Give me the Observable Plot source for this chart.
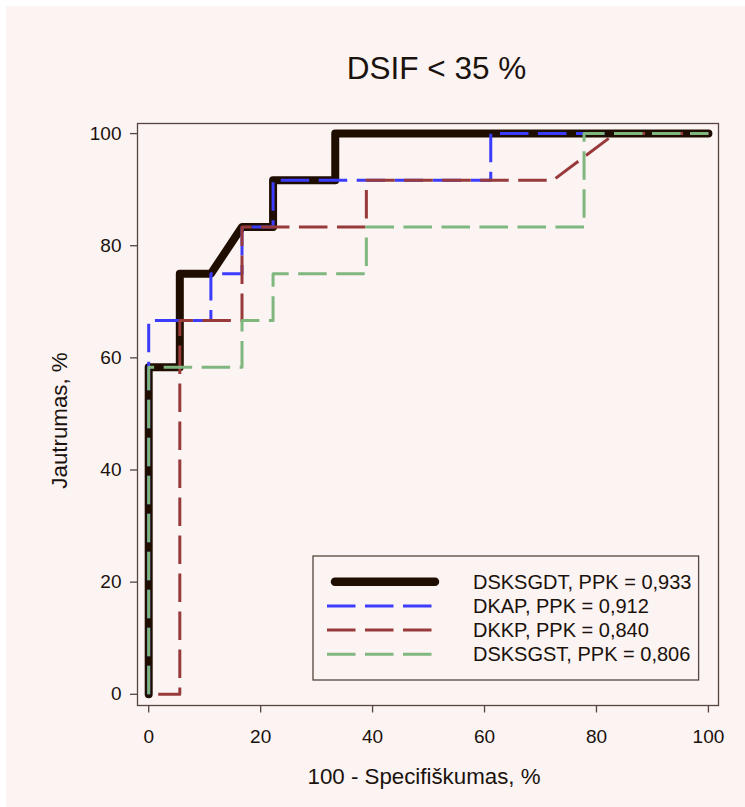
<!DOCTYPE html>
<html>
<head>
<meta charset="utf-8">
<script src="https://cdn.jsdelivr.net/npm/d3@7"></script>
<script src="https://cdn.jsdelivr.net/npm/@observablehq/plot@0.6"></script>
<style>
  html, body { margin: 0; padding: 0; background: #ffffff; }
  #wrap { position: absolute; left: 6px; top: 6px; width: 739px; height: 801px; background: #fcf3f3;
          font-family: "Liberation Sans", Arial, Helvetica, sans-serif; color: #1a120c; overflow: hidden; }
  #title { position: absolute; left: 430.5px; top: 46.5px; transform: translateX(-50%);
           font-size: 31.5px; line-height: 31.5px; white-space: nowrap; }
  #chart { position: absolute; left: 0; top: 100px; }
  #legend { position: absolute; left: 306.7px; top: 550px; }
</style>
</head>
<body>
<div id="wrap">
  <div id="title">DSIF &lt; 35 %</div>
  <div id="chart"></div>
  <div id="legend"></div>
</div>
<script>
// ---- data ----
const seriesNames = ["DSKSGDT", "DKAP", "DKKP", "DSKSGST"];
const ppkValues = [0.933, 0.912, 0.840, 0.806];

const dsksgdtX = [0, 0, 5.56, 5.56, 11.11, 16.67, 22.22, 22.22, 33.33, 33.33, 100];
const dsksgdtY = [0, 58.33, 58.33, 75, 75, 83.33, 83.33, 91.67, 91.67, 100, 100];

const dkapX = [0, 0, 11.11, 11.11, 16.67, 16.67, 22.22, 22.22, 61.11, 61.11, 100];
const dkapY = [0, 66.67, 66.67, 75, 75, 83.33, 83.33, 91.67, 91.67, 100, 100];

const dkkpX = [0, 5.56, 5.56, 16.67, 16.67, 38.89, 38.89, 72.22, 83.33, 100];
const dkkpY = [0, 0, 66.67, 66.67, 83.33, 83.33, 91.67, 91.67, 100, 100];

const dsksgstX = [0, 0, 16.67, 16.67, 22.22, 22.22, 38.89, 38.89, 77.78, 77.78, 100];
const dsksgstY = [0, 58.33, 58.33, 66.67, 66.67, 75, 75, 83.33, 83.33, 100, 100];

const xTicks = [0, 20, 40, 60, 80, 100];
const yTicks = [0, 20, 40, 60, 80, 100];
const xLabel = "100 - Specifiškumas, %";
const yLabel = "Jautrumas, %";

// ---- styles ----
const colors = ["#1f0e00", "#3c3cff", "#983a3a", "#7fb77f"];
const widths = [8, 3, 3, 3];
const dashes = [null, "28.5 9.5", "28.5 9.5", "28.5 9.5"];
const dashOffsets = [0, 0, 28.5, 0];
const frameColor = "#54463e";
const textColor = "#1a120c";

const xs = [dsksgdtX, dkapX, dkkpX, dsksgstX];
const ys = [dsksgdtY, dkapY, dkkpY, dsksgstY];
const seriesRows = xs.map((xArr, i) => xArr.map((x, j) => ({x, y: ys[i][j], s: seriesNames[i]})));

const lineMarks = seriesRows.map((rows, i) => Plot.line(rows, {
  x: "x", y: "y",
  stroke: colors[i],
  strokeWidth: widths[i],
  strokeDasharray: dashes[i] || undefined,
  strokeDashoffset: dashOffsets[i],
  strokeLinejoin: "round",
  strokeLinecap: i === 0 ? "round" : "butt"
}));

const chart = Plot.plot({
  width: 739,
  height: 701,
  marginLeft: 131,
  marginRight: 27,
  marginTop: 17,
  marginBottom: 102,
  style: { background: "transparent", fontFamily: "Liberation Sans, Arial, Helvetica, sans-serif", color: textColor, overflow: "visible" },
  x: { domain: [-2, 101.8] },
  y: { domain: [-2, 101.8] },
  marks: [
    Plot.frame({ stroke: frameColor, strokeWidth: 1.3 }),
    Plot.axisX({ ticks: xTicks, tickSize: 7.5, tickPadding: 16.5, fontSize: 19, stroke: frameColor, strokeWidth: 1.3, fill: textColor, label: null, tickFormat: d => String(d) }),
    Plot.axisY({ ticks: yTicks, tickSize: 7, tickPadding: 9, fontSize: 19, stroke: frameColor, strokeWidth: 1.3, fill: textColor, label: null, tickFormat: d => String(d) }),
    ...lineMarks,
    Plot.text([xLabel], { text: d => d, frameAnchor: "bottom", dy: 78.3, dx: -4, lineAnchor: "bottom", textAnchor: "middle", fontSize: 22.3, fill: textColor }),
    Plot.text([yLabel], { text: d => d, frameAnchor: "left", rotate: -90, dx: -71, dy: 6, lineAnchor: "bottom", textAnchor: "middle", fontSize: 22.3, fill: textColor })
  ]
});
document.getElementById("chart").appendChild(chart);

// ---- legend ----
const lg = d3.select("#legend").append("svg")
  .attr("width", 388).attr("height", 126)
  .style("overflow", "visible")
  .style("font-family", "Liberation Sans, Arial, Helvetica, sans-serif");
lg.append("rect").attr("x", 0).attr("y", 0).attr("width", 385.6).attr("height", 124)
  .attr("fill", "#fcf3f3").attr("stroke", frameColor).attr("stroke-width", 1.3);
seriesNames.forEach((name, i) => {
  const cy = 25.7 + 24.2 * i;
  const ln = lg.append("line")
    .attr("y1", cy).attr("y2", cy)
    .attr("stroke", colors[i]).attr("stroke-width", i === 0 ? 8.5 : 3);
  if (i === 0) {
    ln.attr("x1", 22).attr("x2", 122).attr("stroke-linecap", "round");
  } else {
    ln.attr("x1", 14).attr("x2", 119).attr("stroke-dasharray", dashes[i]);
  }
  lg.append("text").attr("x", 160).attr("y", cy + 6.9)
    .attr("font-size", 20).attr("fill", textColor)
    .text(`${name}, PPK = ${ppkValues[i].toFixed(3).replace(".", ",")}`);
});
</script>
</body>
</html>
